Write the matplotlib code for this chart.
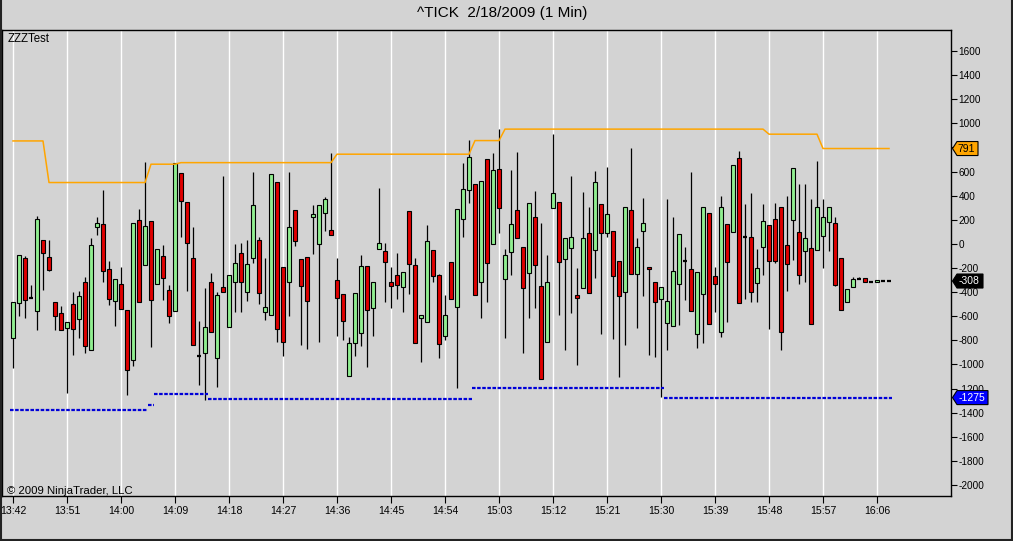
import numpy as np
import matplotlib.pyplot as plt
from matplotlib.patches import Rectangle, Polygon
from matplotlib.lines import Line2D
from matplotlib.transforms import IdentityTransform

plt.rcParams['font.family'] = ['Liberation Sans', 'DejaVu Sans']
plt.rcParams['axes.unicode_minus'] = False

# ^TICK 1-minute bars starting 13:42
opens = [-782, -492, -118, -445, -553, 34, -105, -478, -575, -699,
         -497, -624, -318, -879, 144, 164, -210, -470, -331, -547,
         -967, 200, -174, 186, -331, -99, -381, -555, 587, 346,
         -118, -934, -907, -318, -948, -359, -691, -320, -77, -395,
         -118, 34, -566, -594, 512, -193, -318, 282, -127, -110,
         219, -2, 255, 117, -298, -414, -1092, -824, -741, -182,
         -533, -41, -55, -312, -257, -359, 274, -174, -616, -649,
         -49, -257, -768, -152, -525, 208, 443, 495, -312, 703,
         -2, 620, -290, -71, 282, -27, -243, 222, -353, -815,
         296, 346, -127, -36, -428, -367, 89, -49, 329, 89,
         103, -146, -403, 282, -248, 108, -188, -312, -456, -658,
         -680, -331, -146, -210, -746, -414, 255, -265, -732, 164,
         97, 711, 53, 56, -326, -22, 153, 205, 304, -13,
         200, 97, -58, -36, -49, 67, 180, 172, -118, -478,
         -359, -290, -287, -312, -320, -307, -308]
highs = [-478, -91, -99, -340, 233, 34, 34, -478, -519, -649,
         -395, -389, -271, 47, 222, 443, -146, -293, -188, -547,
         172, 288, 683, 186, -44, -8, -345, 675, 587, 346,
         139, -636, -367, -243, -400, 564, -262, 0, 11, 34,
         600, 61, -118, 578, 512, -193, 600, 282, -127, -110,
         324, 324, 393, 752, -118, -414, -774, -409, -91, -182,
         -318, 462, 11, -188, -77, -237, 274, -118, -594, 158,
         -49, -248, -423, -152, 291, 670, 863, 495, 523, 703,
         752, 952, -44, 614, 761, -27, 338, 440, 172, -96,
         913, 346, 47, 564, -201, 434, 304, 606, 329, 636,
         103, -146, 310, 794, 47, 379, -188, -312, -359, 374,
         222, 81, -22, 600, -235, 304, 255, -188, 399, 164,
         656, 772, 332, 426, -44, 329, 153, 338, 304, 399,
         628, 498, 498, 371, 689, 371, 304, 227, -118, -376,
         -271, -276, -287, -305, -301, -300, -300]
lows = [-1031, -602, -616, -445, -713, -381, -229, -713, -718, -1238,
        -920, -782, -901, -879, 75, -312, -506, -685, -541, -1252,
        -1017, -483, -174, -857, -331, -464, -658, -555, 61, -387,
        -840, -1169, -1294, -732, -1189, -395, -691, -561, -561, -470,
        -160, -497, -630, -594, -810, -929, -597, -16, -837, -871,
        -83, -810, 103, 70, -768, -801, -1092, -934, -843, -1023,
        -768, -41, -486, -528, -459, -569, -414, -824, -976, -649,
        -320, -948, -796, -459, -1197, 61, 343, -423, -611, -478,
        -2, 89, -782, -257, 47, -907, -616, -533, -1122, -815,
        296, -594, -879, -575, -1003, -367, -409, -284, -749, 56,
        -790, -1106, -837, -248, -699, -436, -920, -940, -1272, -879,
        -680, -671, -464, -555, -865, -818, -663, -569, -774, -652,
        97, -492, -456, -478, -478, -257, -707, -160, -879, -387,
        -132, -331, -320, -666, -49, -201, -63, -353, -547, -478,
        -359, -293, -312, -318, -320, -310, -310]
closes = [-478, -91, -464, -445, 208, -77, -215, -602, -718, -649,
          -707, -431, -846, -8, 172, -229, -459, -293, -541, -1045,
          172, -483, 150, -464, -44, -284, -597, 670, 357, 6,
          -840, -934, -691, -732, -423, -395, -262, -160, -312, -168,
          324, -409, -525, 578, -707, -815, 139, 20, -353, -470,
          246, 324, 371, 70, -450, -636, -824, -409, -182, -547,
          -318, 6, -152, -348, -340, -237, -168, -824, -594, 25,
          -265, -832, -589, -459, 291, 454, 719, -423, 523, -160,
          609, 296, -91, 166, 47, -367, 338, -174, -1122, -318,
          421, -152, 47, 61, -450, 47, -409, 512, 89, 246,
          -265, -431, 310, -248, -22, 172, -210, -483, -359, -470,
          -221, 81, -146, -555, -235, 304, -663, -334, 304, -152,
          656, -492, 53, -395, -201, 191, -146, -146, -727, -168,
          628, -262, 47, -666, 304, 222, 304, -345, -547, -376,
          -293, -290, -312, -312, -301, -307, -308]

# indicator lines (step levels and how many bars each lasts)
upper_levels = [854, 509, 661, 674, 744, 857, 952, 910, 791]
upper_counts = [6, 17, 5, 26, 23, 5, 44, 9, 12]
lower_levels = [-1375, -1333, -1243, -1283, -1192, -1275]
lower_counts = [23, 1, 9, 44, 32, 38]

time_labels = ["13:42", "13:51", "14:00", "14:09", "14:18", "14:27", "14:36",
               "14:45", "14:54", "15:03", "15:12", "15:21", "15:30", "15:39",
               "15:48", "15:57", "16:06"]
y_ticks = list(range(-2000, 1601, 200))

bg = '#d3d3d3'
up_color = '#90ee90'
down_color = '#e00000'

fig = plt.figure(figsize=(10.13, 5.41), dpi=100, facecolor=bg)
ax = fig.add_axes([2 / 1013, 1 - 496 / 541, 949 / 1013, 466 / 541])
ax.set_facecolor(bg)

n = len(opens)
for i in range(n):
    o, h, l, c = opens[i], highs[i], lows[i], closes[i]
    ax.vlines(i, l, h, color='black', lw=0.9, zorder=2)
    if o == c:
        ax.hlines(o, i - 0.33, i + 0.33, color='black', lw=1.6, zorder=3)
    else:
        ax.add_patch(Rectangle((i - 0.31, min(o, c)), 0.62, abs(c - o),
                               facecolor=up_color if c > o else down_color,
                               edgecolor='black', lw=0.8, zorder=3))

# upper line (orange)
upper = np.repeat(upper_levels, upper_counts)
ax.plot(np.arange(n), upper, color='#ffa500', lw=1.1, zorder=4)

# lower line (blue dashed, one piece per level)
start = 0
for lev, cnt in zip(lower_levels, lower_counts):
    ax.plot([start - 0.5, start + cnt - 0.5], [lev, lev], color='#0000d8',
            lw=1.6, linestyle=(0, (1.6, 0.7)), zorder=4)
    start += cnt

ax.set_xlim(-11 / 6, 144 + 74 / 6)
ax.set_ylim(-2000 - 11 / 0.12056, 1600 + 21 / 0.12056)

ax.set_xticks(np.arange(0, 145, 9))
ax.set_xticklabels(time_labels, fontsize=7.6)
ax.grid(axis='x', color='white', lw=1)
ax.set_axisbelow(True)
ax.tick_params(axis='x', direction='out', length=5, width=0.8, pad=2.5)

ax.yaxis.tick_right()
ax.set_yticks(y_ticks)
ax.set_yticklabels([str(v) for v in y_ticks])
ax.tick_params(axis='y', direction='out', length=4, width=0.8, labelsize=7.2, pad=1.5)

for s in ax.spines.values():
    s.set_color('black')
    s.set_linewidth(1)

ax.text(6 / 949, (496 - 39) / 466, "ZZZTest", transform=ax.transAxes,
        fontsize=8.3, va='center', ha='left')
ax.text(5 / 949, (496 - 491) / 466, "\u00a9 2009 NinjaTrader, LLC",
        transform=ax.transAxes, fontsize=8.2, va='center', ha='left')

fig.text(502 / 1013, 1 - 13 / 541, "^TICK  2/18/2009 (1 Min)",
         ha='center', va='center', fontsize=11)

# price tags on the right axis
x_edge = ax.transAxes.transform((1, 0))[0]


def tag(val, text, fc, tc):
    y = ax.transData.transform((0, val))[1]
    tip = x_edge + 1.5
    bl = tip + 4.5
    br = bl + 6 + 5 * len(text)
    pts = [(tip, y), (bl, y + 7), (br, y + 7), (br, y - 7), (bl, y - 7)]
    fig.add_artist(Polygon(pts, closed=True, facecolor=fc, edgecolor='black',
                           lw=0.8, transform=IdentityTransform(), zorder=5))
    fig.text((bl + br) / 2 - 1, y, text, color=tc, fontsize=7.5,
             ha='center', va='center', transform=IdentityTransform(), zorder=6)


tag(upper[-1], str(upper[-1]), '#ffa500', 'black')
tag(closes[-1], str(closes[-1]), 'black', 'white')
tag(lower_levels[-1], str(lower_levels[-1]), '#0000ff', 'white')

# outer frame of the window
for xs, ys in [([0.5 / 1013, 0.5 / 1013], [0, 1]),
               ([1 - 1.5 / 1013, 1 - 1.5 / 1013], [0, 1]),
               ([0, 1], [1.5 / 541, 1.5 / 541])]:
    fig.add_artist(Line2D(xs, ys, transform=fig.transFigure, color='#222222', lw=1.5))

fig.savefig('out.png', dpi=100, facecolor=bg)
